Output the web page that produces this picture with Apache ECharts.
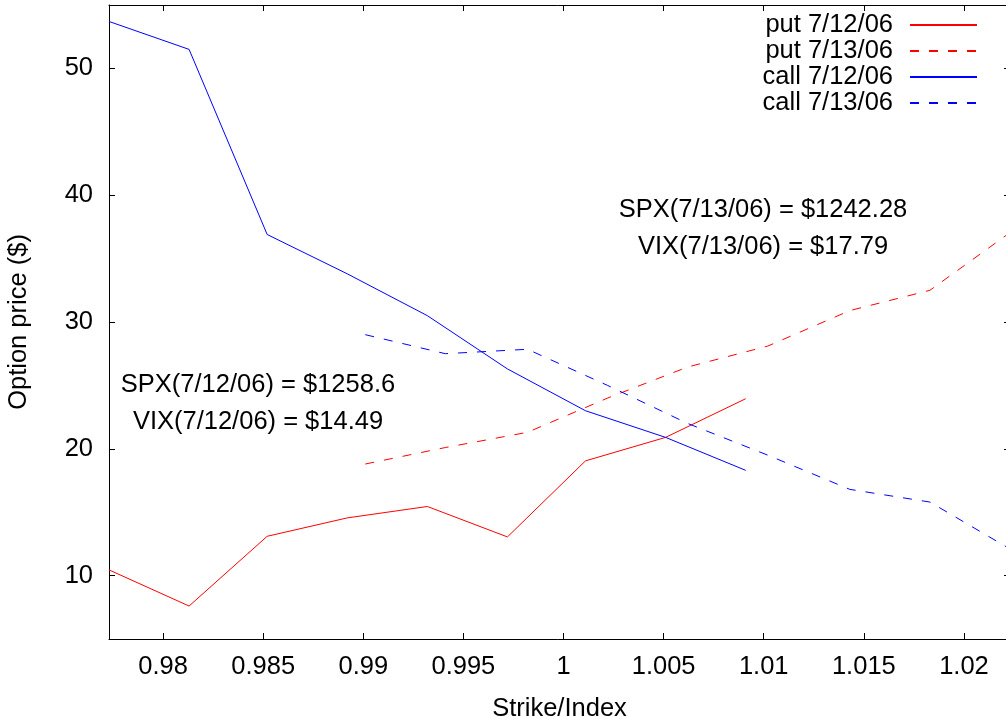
<!DOCTYPE html>
<html>
<head>
<meta charset="utf-8">
<script src="https://cdn.jsdelivr.net/npm/echarts@6/dist/echarts.min.js"></script>
<style>
  html, body { margin: 0; padding: 0; background: #fff; }
  #chart { width: 1006px; height: 717px; }
</style>
</head>
<body>
<div id="chart"></div>
<script>
// strike/index ratios for each trading day
const ratio0712 = [0.9773, 0.9813, 0.9852, 0.9892, 0.9932, 0.9972, 1.0011, 1.0051, 1.0091];
const ratio0713 = [0.9901, 0.9941, 0.9982, 1.0022, 1.0062, 1.0102, 1.0143, 1.0183, 1.0223];

// option prices ($)
const put0712 = [10.45, 7.6, 13.1, 14.55, 15.45, 13.05, 19.05, 20.9, 23.95];
const put0713 = [18.8, 20.1, 21.3, 24.0, 26.45, 28.1, 30.9, 32.5, 37.05];
const call0712 = [53.7, 51.5, 36.9, 33.8, 30.5, 26.3, 23.0, 20.9, 18.3];
const call0713 = [29.0, 27.5, 27.85, 25.0, 22.0, 19.5, 16.8, 15.8, 12.1];

const xTicks = [0.98, 0.985, 0.99, 0.995, 1, 1.005, 1.01, 1.015, 1.02];
const yTicks = [10, 20, 30, 40, 50];

const FONT = "'Liberation Sans', Arial, Helvetica, sans-serif";
const FS = 25.5;

function pairs(xs, ys) {
  return xs.map((x, i) => [x, ys[i]]);
}

function lineSeries(name, xs, ys, color, dashed) {
  return {
    name: name,
    type: "line",
    data: pairs(xs, ys),
    symbol: "none",
    animation: false,
    itemStyle: { color: color },
    lineStyle: { color: color, width: 1, type: dashed ? [9, 10] : "solid" },
  };
}

function label(text, x, y) {
  return {
    type: "text",
    x: x,
    y: y,
    style: {
      text: text,
      font: FS + "px " + FONT,
      fill: "#000",
      textAlign: "center",
      textVerticalAlign: "middle",
    },
  };
}

const chart = echarts.init(document.getElementById("chart"));

const xBase = {
  type: "value",
  min: 0.9773,
  max: 1.0223,
  splitLine: { show: false },
  axisLine: { show: true, onZero: false, lineStyle: { color: "#000", width: 1 } },
  axisTick: { show: true, inside: true, length: 6, customValues: xTicks, lineStyle: { color: "#000" } },
};
const yBase = {
  type: "value",
  min: 5,
  max: 55,
  splitLine: { show: false },
  axisLine: { show: true, onZero: false, lineStyle: { color: "#000", width: 1 } },
  axisTick: { show: true, inside: true, length: 6, customValues: yTicks, lineStyle: { color: "#000" } },
};

chart.setOption({
  backgroundColor: "#fff",
  textStyle: { fontFamily: FONT },
  grid: { left: 109, right: -4, top: 5, bottom: 78, containLabel: false, outerBoundsMode: "none" },
  legend: {
    orient: "vertical",
    right: 28,
    top: 12,
    padding: 0,
    itemGap: 0,
    itemWidth: 67,
    itemHeight: 10,
    align: "right",
    itemStyle: { opacity: 0 },
    textStyle: { fontFamily: FONT, fontSize: FS, color: "#000", lineHeight: 25.3, padding: [0, 12, 0, 0] },
    data: ["put 7/12/06", "put 7/13/06", "call 7/12/06", "call 7/13/06"],
  },
  xAxis: [
    Object.assign({}, xBase, {
      position: "bottom",
      name: "Strike/Index",
      nameLocation: "middle",
      nameGap: 57,
      nameTextStyle: { fontFamily: FONT, fontSize: FS, color: "#000" },
      axisLabel: { show: true, customValues: xTicks, margin: 15, fontFamily: FONT, fontSize: FS, color: "#000" },
    }),
    Object.assign({}, xBase, {
      position: "top",
      axisLabel: { show: false },
    }),
  ],
  yAxis: [
    Object.assign({}, yBase, {
      position: "left",
      name: "Option price ($)",
      nameLocation: "middle",
      nameGap: 77,
      nameTextStyle: { fontFamily: FONT, fontSize: FS, color: "#000" },
      axisLabel: { show: true, customValues: yTicks, margin: 16, fontFamily: FONT, fontSize: FS, color: "#000" },
    }),
    Object.assign({}, yBase, {
      position: "right",
      axisLabel: { show: false },
    }),
  ],
  graphic: [
    label("SPX(7/12/06) = $1258.6", 258, 385),
    label("VIX(7/12/06) = $14.49", 258, 422),
    label("SPX(7/13/06) = $1242.28", 763, 210),
    label("VIX(7/13/06) = $17.79", 763, 247),
  ],
  series: [
    lineSeries("put 7/12/06", ratio0712, put0712, "#ff0000", false),
    lineSeries("put 7/13/06", ratio0713, put0713, "#ff0000", true),
    lineSeries("call 7/12/06", ratio0712, call0712, "#0000ff", false),
    lineSeries("call 7/13/06", ratio0713, call0713, "#0000ff", true),
  ],
});
</script>
</body>
</html>
